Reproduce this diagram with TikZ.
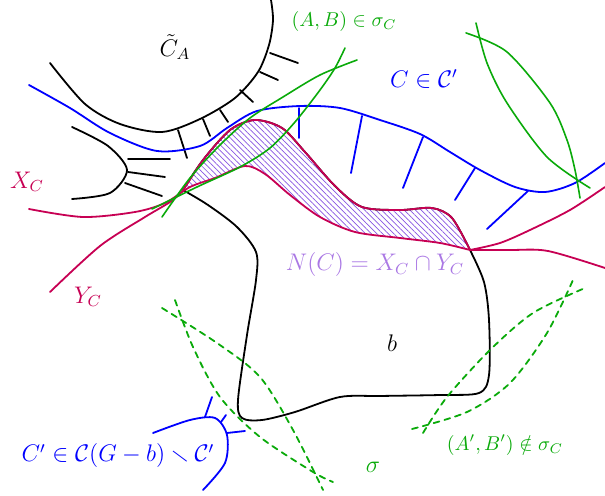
\documentclass[tikz,border=0pt]{standalone}
\usepackage{amssymb}
\usetikzlibrary{patterns.meta}
\definecolor{cblue}{RGB}{0,0,255}
\definecolor{cgreen}{RGB}{10,170,10}
\definecolor{cmag}{RGB}{199,0,83}
\definecolor{cviol}{RGB}{170,120,228}
\definecolor{chatch}{RGB}{135,85,225}
\tikzset{
  blk/.style={black,line width=0.9pt},
  blu/.style={cblue,line width=0.9pt},
  grn/.style={cgreen,line width=0.8pt},
  grndash/.style={cgreen,line width=0.9pt,dash pattern=on 3pt off 2.6pt},
  mag/.style={cmag,line width=0.9pt},
  lbl/.style={font=\fontsize{12}{14}\selectfont,inner sep=0pt},
  slbl/.style={font=\fontsize{10}{12}\selectfont,inner sep=0pt},
}
\begin{document}
\begin{tikzpicture}[x=0.5pt,y=-0.5pt,line cap=round,line join=round]
\useasboundingbox (0,0) rectangle (605,496);

% hatched region N(C)
\fill[pattern={Lines[angle=-45,distance=2pt,line width=0.35pt]},pattern color=chatch]
  plot[smooth] coordinates {(183,190) (203,160) (230,130) (255,120) (282,128) (305,152) (335,186) (362,207) (400,210) (432,208) (452,218) (470,250)}
  -- plot[smooth] coordinates {(470,250) (440,243) (400,238) (355,232) (320,217) (290,195) (265,174) (245,166) (215,178) (183,190)}
  -- cycle;

% tilde C_A boundary
\draw[blk] plot[smooth] coordinates {(50,63) (85,104) (120,124) (162,132) (200,119) (235,98) (258,72) (269,45) (273,20) (271,0)};
\draw[blk] (270,53) -- (298,63);
\draw[blk] (260,72) -- (278,80);
\draw[blk] (240,90) -- (253,102);
\draw[blk] (220,110) -- (228,122);
\draw[blk] (203,119) -- (210,136);
\draw[blk] (178,130) -- (187,158);

% small left black component
\draw[blk] plot[smooth] coordinates {(72,127) (108,146) (127,170) (110,193) (72,199)};
\draw[blk] (128,159) -- (170,159);
\draw[blk] (128,172) -- (165,177);
\draw[blk] (125,183) -- (162,196);

% b boundary
\draw[blk] plot[smooth] coordinates {(183,190) (203,160) (230,130) (255,120) (282,128) (305,152) (335,186) (362,207) (400,210) (432,208) (452,218) (470,250)};
\draw[blk] plot[smooth] coordinates {(470,250) (484,282) (489,320) (489,375) (479,393) (440,395) (380,396) (340,397) (295,412) (262,420) (242,418) (238,400) (247,335) (256,280) (256,252) (237,227) (208,205) (183,190)};

% blue C boundary
\draw[blu] plot[smooth] coordinates {(29,85) (70,108) (110,133) (157,151) (200,146) (227,128) (257,111) (300,106) (340,108) (380,120) (420,134) (450,152) (480,170) (515,187) (545,192) (575,183) (605,163)};
\draw[blu] (299,108) -- (299,138);
\draw[blu] (362,116) -- (351,173);
\draw[blu] (423,137) -- (403,188);
\draw[blu] (475,168) -- (455,200);
\draw[blu] (528,191) -- (487,229);

% magenta X_C and Y_C
\draw[mag] plot[smooth] coordinates {(29,209) (83,217) (135,212) (165,203) (190,187) (215,178) (245,166) (265,174) (290,195) (320,217) (355,232) (400,238) (440,243) (470,250)};
\draw[mag] plot[smooth] coordinates {(470,250) (500,243) (530,230) (570,210) (605,187)};
\draw[mag] plot[smooth] coordinates {(50,292) (100,246) (145,217) (170,202) (183,190) (203,160) (230,130) (255,120) (282,128) (305,152) (335,186) (362,207) (400,210) (432,208) (452,218) (470,250)};
\draw[mag] plot[smooth] coordinates {(470,250) (510,250) (548,251) (605,268)};

% green separations (A,B)
\draw[grn] plot[smooth] coordinates {(162,217) (190,178) (220,145) (250,118) (283,97) (320,75) (357,60)};
\draw[grn] plot[smooth] coordinates {(152,209) (197,187) (240,167) (270,148) (295,122) (320,90) (335,68) (345,48)};
\draw[grn] plot[smooth] coordinates {(466,33) (507,52) (550,103) (567,140) (575,170) (580,198)};
\draw[grn] plot[smooth] coordinates {(476,23) (487,63) (507,103) (547,157) (590,188)};

% dashed green separations
\draw[grndash] plot[smooth] coordinates {(175,300) (193,347) (220,397) (260,437) (313,472) (333,482)};
\draw[grndash] plot[smooth] coordinates {(162,308) (217,343) (260,377) (293,430) (323,490)};
\draw[grndash] plot[smooth] coordinates {(412,429) (467,412) (510,383) (547,333) (573,280)};
\draw[grndash] plot[smooth] coordinates {(423,433) (447,397) (490,350) (533,313) (585,288)};

% blue C'
\draw[blu] plot[smooth] coordinates {(153,433) (190,420) (215,418) (227,435) (225,463) (203,490)};
\draw[blu] (205,417) -- (212,397);
\draw[blu] (221,422) -- (226,415);
\draw[blu] (227,433) -- (245,431);

% labels
\node[lbl] (lCA) at (175,47) {$\tilde{C}_A$};
\node[slbl,text=cgreen] (lAB) at (344,22) {$(A,B)\in\sigma_C$};
\node[lbl,text=cblue] (lC) at (424,79) {$C\in\mathcal{C}'$};
\node[lbl,text=cmag] (lX) at (27,182) {$X_C$};
\node[lbl,text=cmag] (lY) at (88,297) {$Y_C$};
\node[lbl,text=cviol] (lN) at (375,265) {$N(C)=X_C\cap Y_C$};
\node[lbl] (lb) at (392,343) {$b$};
\node[lbl,text=cblue] (lCp) at (118,456) {$C'\in\mathcal{C}(G-b)\smallsetminus\mathcal{C}'$};
\node[slbl,text=cgreen] (lApBp) at (505,445) {$(A',B')\notin\sigma_C$};
\node[lbl,text=cgreen] (lsig) at (373,467) {$\sigma$};
\end{tikzpicture}
\end{document}
